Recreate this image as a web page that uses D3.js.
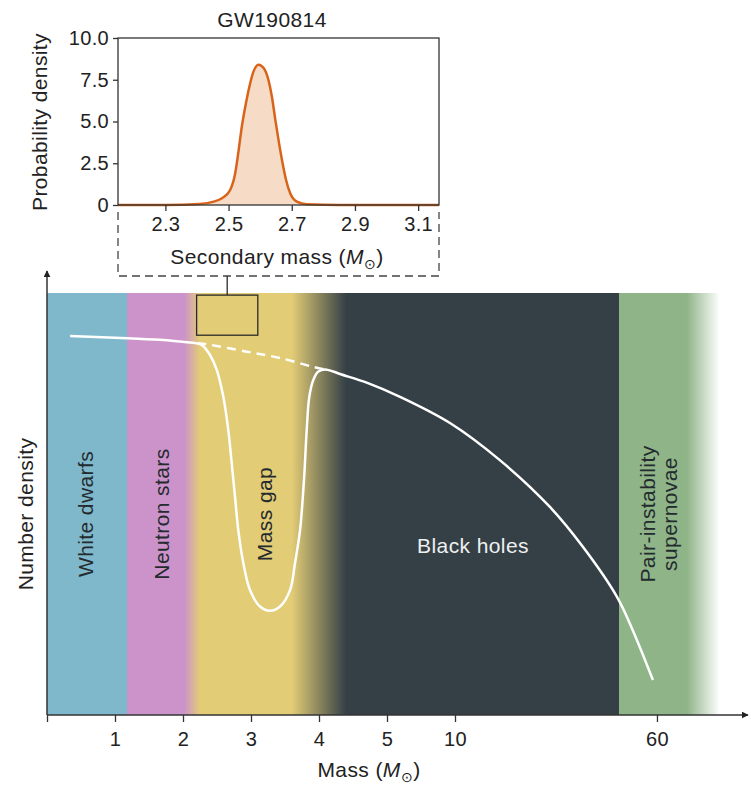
<!DOCTYPE html>
<meta charset="utf-8">
<style>
  body { margin: 0; background: #fff; }
  svg { font-family: "Liberation Sans", Arial, sans-serif; }
  .lbl { font-size: 21px; letter-spacing: 0.4px; }
</style>
<svg width="751" height="790"></svg>
<script src="https://cdn.jsdelivr.net/npm/d3@7"></script>
<script>
// ---- data ----
// main axis tick masses (schematic, non-linear axis)
var massTicks = [0, 1, 2, 3, 4, 5, 10, 60];
var massTickLabels = ["", "1", "2", "3", "4", "5", "10", "60"];

// background colour stops along the mass axis
var stopMass  = [0, 1.18, 1.18, 2.02, 2.25, 3.6, 4.4, 50.6, 50.6, 67.4, 75.6];
var stopColor = ["#80b8cb", "#80b8cb", "#cc93ca", "#cc93ca", "#e3cc76", "#e3cc76",
                 "#344046", "#344046", "#8fb488", "#8fb488", "#ffffff"];

// number density curve (arbitrary units 0-100)
var curveMass    = [0.34, 1.18, 1.66, 1.956, 2.151, 2.275, 2.397, 2.496, 2.593, 2.666, 2.716, 2.765, 2.813, 2.887, 2.985, 3.132, 3.279, 3.426, 3.574, 3.647, 3.721, 3.779, 3.819, 3.857, 3.916, 3.990, 4.088, 4.21, 4.31, 4.71, 5.96, 9.63, 21.1, 33.5, 41.7, 50.1, 54.0, 59.0];
var curveDensity = [89.8, 89.3, 88.9, 88.5, 88.2, 87.7, 85.3, 81.8, 75.4, 67.5, 59.7, 51.7, 43.8, 36.0, 29.6, 25.7, 24.7, 25.7, 29.6, 36.0, 43.8, 55.7, 67.5, 75.4, 79.4, 81.4, 81.9, 81.4, 80.8, 78.7, 75.4, 69.2, 60.4, 49.3, 39.8, 28.0, 20.1, 8.3];
// dashed continuation across the gap
var dashMass    = [2.21, 2.294, 2.937, 3.426, 3.912, 4.088];
var dashDensity = [88.1, 88.0, 86.1, 84.6, 82.5, 81.9];

// GW190814 secondary mass posterior
var pdfMass  = [2.15, 2.30, 2.408, 2.453, 2.479, 2.505, 2.521, 2.532, 2.542, 2.553, 2.566, 2.579, 2.595, 2.611, 2.626, 2.637, 2.648, 2.658, 2.669, 2.682, 2.695, 2.716, 2.748, 2.85, 3.166];
var pdfValue = [0, 0, 0.06, 0.2, 0.4, 0.9, 1.9, 3.3, 4.7, 5.9, 7.1, 8.0, 8.4, 8.2, 7.5, 6.5, 5.1, 3.9, 2.7, 1.5, 0.7, 0.2, 0.04, 0, 0];
var pdfTicksX = [2.3, 2.5, 2.7, 2.9, 3.1];
var pdfTicksY = [0, 2.5, 5, 7.5, 10];

var bandLabels = ["White dwarfs", "Neutron stars", "Mass gap", "Black holes"];
var pisnLines = ["Pair-instability", "supernovae"];

// ---- layout ----
var svg = d3.select("svg");
var x0 = 47, step = 68, yBot = 715, yTop = 293;

var x = d3.scaleLinear()
    .domain(massTicks)
    .range(massTicks.map(function(d, i) { return i < 7 ? x0 + step * i : x0 + step * 8.97; }));
var y = d3.scaleLinear().domain([0, 100]).range([yBot, yTop]);

// gradient background
var defs = svg.append("defs");
var grad = defs.append("linearGradient")
    .attr("id", "bands")
    .attr("gradientUnits", "userSpaceOnUse")
    .attr("x1", x(0)).attr("x2", x(75.6)).attr("y1", 0).attr("y2", 0);
var span = x(75.6) - x(0);
stopMass.forEach(function(m, i) {
  grad.append("stop")
      .attr("offset", (x(m) - x(0)) / span)
      .attr("stop-color", stopColor[i]);
});

defs.append("marker")
    .attr("id", "arrow")
    .attr("viewBox", "0 0 10 10")
    .attr("refX", 9).attr("refY", 5)
    .attr("markerWidth", 7).attr("markerHeight", 7)
    .attr("markerUnits", "userSpaceOnUse")
    .attr("orient", "auto")
  .append("path")
    .attr("d", "M0,0L10,5L0,10z")
    .attr("fill", "#222");

svg.append("rect")
    .attr("x", x(0)).attr("y", y(100))
    .attr("width", x(75.6) - x(0)).attr("height", y(0) - y(100))
    .attr("fill", "url(#bands)");

// band labels (rotated ones: baseline x positions)
var vertBase = [93, 169, 272];
vertBase.forEach(function(bx, i) {
  svg.append("text")
      .attr("class", "lbl")
      .attr("transform", "translate(" + bx + ",514) rotate(-90)")
      .attr("text-anchor", "middle")
      .attr("fill", "#232b2e")
      .text(bandLabels[i]);
});
svg.append("text")
    .attr("class", "lbl")
    .attr("x", 473).attr("y", 553)
    .attr("text-anchor", "middle")
    .attr("fill", "#eef0f0")
    .text(bandLabels[3]);
pisnLines.forEach(function(t, i) {
  svg.append("text")
      .attr("class", "lbl")
      .attr("transform", "translate(" + (655 + 22 * i) + ",514) rotate(-90)")
      .attr("text-anchor", "middle")
      .attr("fill", "#232b2e")
      .text(t);
});

// curves
var line = d3.line()
    .x(function(d) { return x(d[0]); })
    .y(function(d) { return y(d[1]); })
    .curve(d3.curveCatmullRom.alpha(0.5));

svg.append("path")
    .datum(dashMass.map(function(m, i) { return [m, dashDensity[i]]; }))
    .attr("d", line)
    .attr("fill", "none")
    .attr("stroke", "#fff")
    .attr("stroke-width", 2.5)
    .attr("stroke-dasharray", "9,6");

svg.append("path")
    .datum(curveMass.map(function(m, i) { return [m, curveDensity[i]]; }))
    .attr("d", line)
    .attr("fill", "none")
    .attr("stroke", "#fff")
    .attr("stroke-width", 2.5);

// zoom rectangle
svg.append("rect")
    .attr("x", x(2.2)).attr("y", y(99.5))
    .attr("width", x(3.1) - x(2.2)).attr("height", y(90) - y(99.5))
    .attr("fill", "none")
    .attr("stroke", "#2a2a2a")
    .attr("stroke-width", 1.3);

// axes
svg.append("line")
    .attr("x1", x0).attr("y1", yBot).attr("x2", 748).attr("y2", yBot)
    .attr("stroke", "#333").attr("stroke-width", 1.5)
    .attr("marker-end", "url(#arrow)");
svg.append("line")
    .attr("x1", x0).attr("y1", yBot).attr("x2", x0).attr("y2", 271)
    .attr("stroke", "#333").attr("stroke-width", 1.5)
    .attr("marker-end", "url(#arrow)");

var xAxis = d3.axisBottom(x)
    .tickValues(massTicks)
    .tickFormat(function(d, i) { return massTickLabels[i]; })
    .tickSize(7).tickPadding(10);
var gx = svg.append("g").attr("transform", "translate(0," + yBot + ")").call(xAxis);
gx.select(".domain").remove();
gx.selectAll(".tick line").attr("stroke", "#333").attr("stroke-width", 1.3);
gx.selectAll(".tick text").attr("font-size", 20).attr("font-family", "Liberation Sans, Arial, sans-serif")
    .attr("fill", "#222").attr("letter-spacing", "0.3px");

var massLabel = svg.append("text")
    .attr("class", "lbl")
    .attr("x", 369).attr("y", 777)
    .attr("text-anchor", "middle")
    .attr("fill", "#222");
massLabel.append("tspan").text("Mass (");
massLabel.append("tspan").attr("font-style", "italic").text("M");
massLabel.append("tspan").attr("font-size", 14).attr("dy", 5).text("\u2299");
massLabel.append("tspan").attr("dy", -5).text(")");

svg.append("text")
    .attr("class", "lbl")
    .attr("transform", "translate(33,514) rotate(-90)")
    .attr("text-anchor", "middle")
    .attr("fill", "#222")
    .text("Number density");

// ---- inset ----
var xi = d3.scaleLinear().domain([2.15, 3.166]).range([118, 439]);
var yi = d3.scaleLinear().domain([0, 10]).range([205, 38]);

// dashed box around the inset axis
svg.append("path")
    .attr("d", "M" + xi.range()[0] + ",212V276H" + xi.range()[1] + "V212")
    .attr("fill", "none")
    .attr("stroke", "#444")
    .attr("stroke-width", 1.3)
    .attr("stroke-dasharray", "8,5");
svg.append("line")
    .attr("x1", (x(2.2) + x(3.1)) / 2).attr("x2", (x(2.2) + x(3.1)) / 2)
    .attr("y1", 276).attr("y2", y(99.5))
    .attr("stroke", "#2a2a2a").attr("stroke-width", 1.3);

var area = d3.area()
    .x(function(d) { return xi(d[0]); })
    .y0(yi(0))
    .y1(function(d) { return yi(d[1]); })
    .curve(d3.curveMonotoneX);
var pdf = pdfMass.map(function(m, i) { return [m, pdfValue[i]]; });

svg.append("path").datum(pdf).attr("d", area).attr("fill", "#f6dcc6");
svg.append("path").datum(pdf).attr("d", area.lineY1())
    .attr("fill", "none").attr("stroke", "#d8641c").attr("stroke-width", 2.5);

svg.append("rect")
    .attr("x", xi.range()[0]).attr("y", yi(10))
    .attr("width", xi.range()[1] - xi.range()[0]).attr("height", yi(0) - yi(10))
    .attr("fill", "none").attr("stroke", "#333").attr("stroke-width", 1.3);

var gyi = svg.append("g").attr("transform", "translate(" + xi.range()[0] + ",0)")
    .call(d3.axisLeft(yi).tickValues(pdfTicksY)
      .tickFormat(function(d) { return d === 0 ? "0" : d.toFixed(1); })
      .tickSize(5).tickPadding(4));
var gxi = svg.append("g").attr("transform", "translate(0," + yi(0) + ")")
    .call(d3.axisBottom(xi).tickValues(pdfTicksX).tickFormat(d3.format(".1f"))
      .tickSize(6).tickPadding(6));
[gyi, gxi].forEach(function(g) {
  g.select(".domain").remove();
  g.selectAll(".tick line").attr("stroke", "#333").attr("stroke-width", 1.3);
  g.selectAll(".tick text").attr("font-size", 20).attr("font-family", "Liberation Sans, Arial, sans-serif")
      .attr("fill", "#222").attr("letter-spacing", "0.3px");
});

svg.append("text")
    .attr("class", "lbl")
    .attr("x", 272).attr("y", 27)
    .attr("text-anchor", "middle")
    .attr("fill", "#222")
    .text("GW190814");

svg.append("text")
    .attr("class", "lbl")
    .attr("transform", "translate(47,122) rotate(-90)")
    .attr("text-anchor", "middle")
    .attr("fill", "#222")
    .text("Probability density");

var secLabel = svg.append("text")
    .attr("class", "lbl")
    .attr("x", 277).attr("y", 264)
    .attr("text-anchor", "middle")
    .attr("fill", "#222");
secLabel.append("tspan").text("Secondary mass (");
secLabel.append("tspan").attr("font-style", "italic").text("M");
secLabel.append("tspan").attr("font-size", 14).attr("dy", 5).text("\u2299");
secLabel.append("tspan").attr("dy", -5).text(")");
</script>
